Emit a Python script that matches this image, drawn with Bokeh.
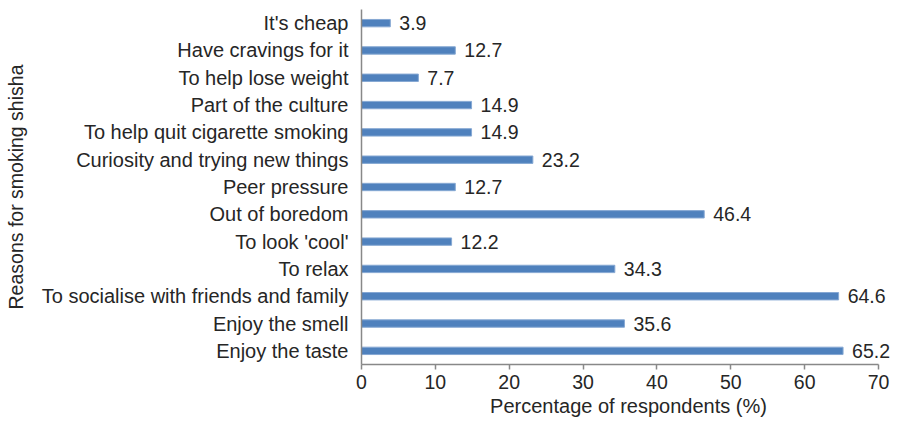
from bokeh.plotting import figure
from bokeh.models import ColumnDataSource, LabelSet, FactorRange, Range1d, FixedTicker
from bokeh.core.properties import value
from bokeh.embed import file_html
from bokeh.resources import INLINE

reasons = ["It's cheap", "Have cravings for it", "To help lose weight", "Part of the culture",
           "To help quit cigarette smoking", "Curiosity and trying new things", "Peer pressure",
           "Out of boredom", "To look 'cool'", "To relax", "To socialise with friends and family",
           "Enjoy the smell", "Enjoy the taste"]
percent = [3.9, 12.7, 7.7, 14.9, 14.9, 23.2, 12.7, 46.4, 12.2, 34.3, 64.6, 35.6, 65.2]
x_ticks = [0, 10, 20, 30, 40, 50, 60, 70]

src = ColumnDataSource(dict(reason=reasons, pct=percent, lbl=[f"{v:.1f}" for v in percent]))

FONT = "Liberation Sans"
TXT = "#262626"
AX = "#888888"

p = figure(width=895, height=419, output_backend="svg", toolbar_location=None,
           y_range=FactorRange(factors=list(reversed(reasons)), range_padding=0),
           x_range=Range1d(0, 72.3),
           min_border_left=361, min_border_right=0, min_border_top=9, min_border_bottom=0)

p.hbar(y="reason", right="pct", height=0.27, source=src, fill_color="#4F81BD",
       line_color="#86A8D3", line_width=1)

labels = LabelSet(x="pct", y="reason", text="lbl", source=src, x_offset=9,
                  text_baseline="middle", text_font=value(FONT), text_font_size="19.5px",
                  text_color=TXT)
p.add_layout(labels)

p.outline_line_color = None
p.xgrid.grid_line_color = None
p.ygrid.grid_line_color = None

p.xaxis.ticker = FixedTicker(ticks=x_ticks)
p.xaxis.bounds = (0, 70)
p.xaxis.minor_tick_line_color = None
p.xaxis.major_tick_in = 0
p.xaxis.major_tick_out = 5
p.xaxis.axis_line_color = AX
p.xaxis.axis_line_width = 1.5
p.xaxis.major_tick_line_color = AX
p.xaxis.major_tick_line_width = 1.5
p.xaxis.major_label_text_font = FONT
p.xaxis.major_label_text_font_size = "19.5px"
p.xaxis.major_label_text_color = TXT
p.xaxis.major_label_standoff = 5
p.xaxis.axis_label = "Percentage of respondents (%)"
p.xaxis.axis_label_text_font = FONT
p.xaxis.axis_label_text_font_size = "20px"
p.xaxis.axis_label_text_font_style = "normal"
p.xaxis.axis_label_text_color = TXT
p.xaxis.axis_label_standoff = 3

p.yaxis.major_tick_line_color = None
p.yaxis.minor_tick_line_color = None
p.yaxis.axis_line_color = AX
p.yaxis.axis_line_width = 1.5
p.yaxis.major_label_text_font = FONT
p.yaxis.major_label_text_font_size = "20px"
p.yaxis.major_label_text_color = TXT
p.yaxis.major_label_standoff = 7
p.yaxis.axis_label = "Reasons for smoking shisha"
p.yaxis.axis_label_text_font = FONT
p.yaxis.axis_label_text_font_size = "19.5px"
p.yaxis.axis_label_text_font_style = "normal"
p.yaxis.axis_label_text_color = TXT
p.yaxis.axis_label_standoff = 12

open("out.html", "w").write(file_html(p, INLINE))
